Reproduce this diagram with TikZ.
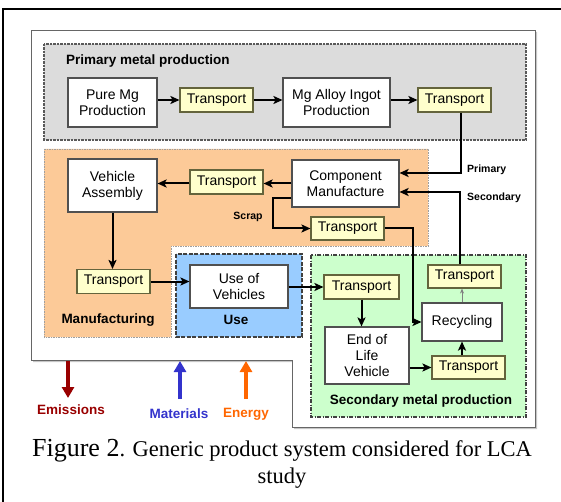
\documentclass[tikz,border=0pt]{standalone}
\usepackage{fontspec}
\setmainfont{Liberation Serif}
\newfontfamily\arial{Liberation Sans}
\usetikzlibrary{arrows.meta}

\definecolor{graybg}{RGB}{220,220,220}
\definecolor{peach}{RGB}{252,202,152}
\definecolor{usebl}{RGB}{153,204,255}
\definecolor{secgr}{RGB}{204,255,204}
\definecolor{trfill}{RGB}{255,255,204}
\definecolor{trdraw}{RGB}{100,100,60}
\definecolor{boxdraw}{RGB}{80,80,80}
\definecolor{emred}{RGB}{153,0,0}
\definecolor{matbl}{RGB}{51,51,204}
\definecolor{enor}{RGB}{255,102,0}

\tikzset{
  procbox/.style={draw=boxdraw, line width=1.1pt, fill=white, inner sep=0pt,
    align=center, font=\arial\fontsize{14}{16}\selectfont},
  trbox/.style={draw=trdraw, line width=1.1pt, fill=trfill, inner sep=0pt,
    minimum width=73pt, minimum height=23pt, font=\arial\fontsize{14}{16}\selectfont},
  arr/.style={draw=black, line width=2pt, -{Stealth[length=9pt,width=8pt,inset=2pt]}},
  thinarr/.style={draw=gray, line width=1pt, -{Stealth[length=5pt,width=4pt]}},
  regionlbl/.style={font=\arial\bfseries\fontsize{13.5}{16}\selectfont, inner sep=0pt},
  smalllbl/.style={font=\arial\bfseries\fontsize{10.5}{12}\selectfont, inner sep=0pt},
  flowarr/.style={line width=4pt, -{Triangle[length=11pt,width=12pt]}},
}

\begin{document}
\begin{tikzpicture}[x=1pt,y=-1pt]
\useasboundingbox (0,0) rectangle (561,502);

% page frame
\draw[line width=2pt] (3,502) -- (3,9) -- (561,9);

% system boundary with a light shadow
\fill[gray!45] (33,32) -- (537,32) -- (537,429) -- (294,429) -- (294,362) -- (33,362) -- cycle;
\draw[fill=white, draw=gray!80!black, line width=0.9pt]
  (31,30) -- (535,30) -- (535,427) -- (292,427) -- (292,360) -- (31,360) -- cycle;

% stage regions
\draw[fill=graybg, draw=gray!70!black, line width=1.1pt, dash pattern=on 2.5pt off 1pt]
  (44,44) rectangle (526,140);
\draw[fill=peach, draw=gray!75, line width=0.9pt, dash pattern=on 1.5pt off 1pt]
  (44,149) -- (428,149) -- (428,246) -- (171,246) -- (171,337) -- (44,337) -- cycle;
\draw[fill=usebl, draw=black!75, line width=1.1pt, dash pattern=on 4pt off 1.5pt]
  (176,254) rectangle (302,337);
\draw[fill=secgr, draw=black!75, line width=1.1pt, dash pattern=on 4pt off 1.5pt on 1pt off 1.5pt]
  (311,255) rectangle (526,417);

% region titles
\node[regionlbl, anchor=west] (lblprim) at (66,61) {Primary metal production};
\node[regionlbl] (lblmanu) at (108,320) {Manufacturing};
\node[regionlbl] (lbluse) at (236,320) {Use};
\node[regionlbl] (lblsec) at (421,401) {Secondary metal production};

% primary metal production
\node[procbox, minimum width=89pt, minimum height=49pt] (pure) at (112.5,102.5) {Pure Mg\\Production};
\node[trbox, minimum height=24pt] (t1) at (216.5,100) {Transport};
\node[procbox, minimum width=107pt, minimum height=49pt] (alloy) at (336.5,102.5) {Mg Alloy Ingot\\Production};
\node[trbox, minimum height=24pt] (t2) at (454.5,100) {Transport};

% manufacturing
\node[procbox, minimum width=89pt, minimum height=53pt] (va) at (112.5,185.5) {Vehicle\\Assembly};
\node[trbox, minimum height=24pt] (t3) at (226.5,182) {Transport};
\node[procbox, minimum width=107pt, minimum height=47pt] (cm) at (345.5,183.5) {Component\\Manufacture};
\node[trbox] (t4) at (347.5,228.5) {Transport};
\node[trbox, minimum height=24pt] (t5) at (113.5,281.5) {Transport};

% use
\node[procbox, minimum width=98pt, minimum height=43pt] (use) at (239,286.5) {Use of\\Vehicles};

% secondary metal production
\node[trbox, minimum width=75pt, minimum height=24pt] (t6) at (361.5,287) {Transport};
\node[procbox, minimum width=84pt, minimum height=57pt] (eol) at (367,355.5) {End of\\Life\\Vehicle};
\node[trbox] (t7) at (468.5,367.5) {Transport};
\node[procbox, minimum width=80pt, minimum height=38pt] (rec) at (462,322) {Recycling};
\node[trbox] (t8) at (464.5,276.5) {Transport};

% flow labels
\node[smalllbl, anchor=west] (lblpri) at (467,170) {Primary};
\node[smalllbl, anchor=west] (lblsecd) at (467,198) {Secondary};
\node[smalllbl] (lblscrap) at (248,217) {Scrap};

% connectors
\draw[arr] (pure.east |- t1) -- (t1);
\draw[arr] (t1) -- (t1 -| alloy.west);
\draw[arr] (alloy.east |- t2) -- (t2);
\draw[arr] ([xshift=6pt]t2.south) |- ([yshift=10.5pt]cm.east);
\draw[arr] ([xshift=-4.5pt]t8.north) |- ([yshift=-8.5pt]cm.east);
\draw[arr] (cm.west) -- (cm.west -| t3.east);
\draw[arr] (t3.west |- cm.west) -- (t3.west |- cm.west -| va.east);
\draw[arr] ([yshift=-14.5pt]cm.west) -- ++(-18,0) |- (t4.west);
\draw[arr] (t4.east) -- ++(28,0) |- (rec.west);
\draw[arr] (va.south) -- (va.south |- t5.north);
\draw[arr] (t5.east) -- (t5.east -| use.west);
\draw[arr] (use.east |- t6) -- (t6.west);
\draw[arr] (t6.south) -- (t6.south |- eol.north);
\draw[arr] (eol.east |- t7) -- (t7.west);
\draw[arr] (t7.north -| rec.south) -- (rec.south);
\draw[thinarr] (rec.north) -- (rec.north |- t8.south);

% exchanges with the environment
\coordinate (emtop) at (68,361);
\coordinate (embot) at (68,398);
\coordinate (matbot) at (180,399);
\coordinate (mattop) at (180,361);
\coordinate (enbot) at (246,399);
\coordinate (entop) at (246,361);
\draw[flowarr, draw=emred, fill=emred] (emtop) -- (embot);
\draw[flowarr, draw=matbl, fill=matbl] (matbot) -- (mattop);
\draw[flowarr, draw=enor, fill=enor] (enbot) -- (entop);
\node[regionlbl, text=emred] (lblem) at (71,410) {Emissions};
\node[regionlbl, text=matbl] (lblmat) at (179,414) {Materials};
\node[regionlbl, text=enor] (lblen) at (246,414) {Energy};

% caption
\node[anchor=base, inner sep=0pt] (cap1) at (282,456)
  {\fontsize{26}{30}\selectfont Figure 2\fontsize{22.5}{30}\selectfont. Generic product system considered for LCA};
\node[anchor=base, inner sep=0pt] (cap2) at (282,483) {\fontsize{22.5}{30}\selectfont study};
\end{tikzpicture}
\end{document}
